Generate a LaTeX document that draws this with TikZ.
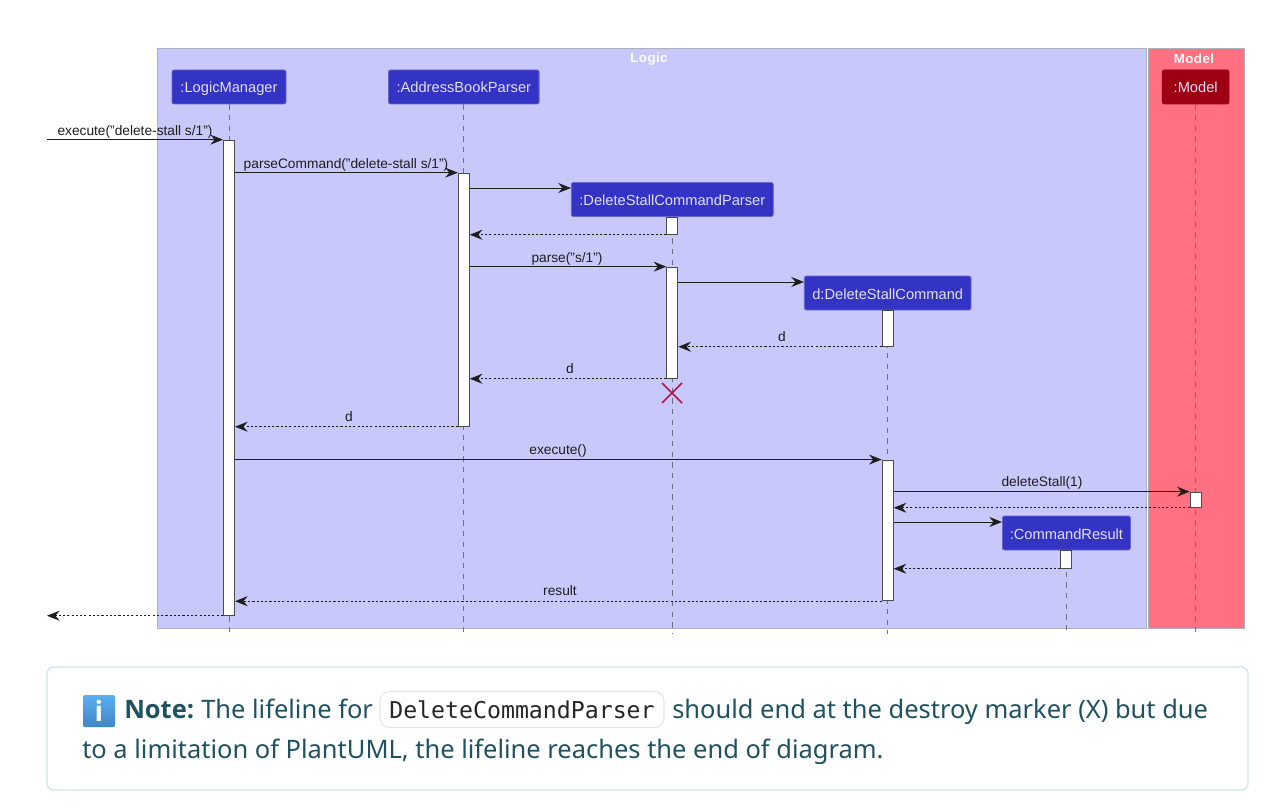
\documentclass[tikz,border=0pt]{standalone}
\usepackage{xcolor}
\usepackage{fontspec}
\usetikzlibrary{arrows.meta}
\setmainfont{Liberation Sans}
\newfontfamily\notefont{Noto Sans}
\newfontfamily\noteboldfont{Open Sans}
\newfontfamily\codefont{DejaVu Sans Mono}
\newfontfamily\titlefont[LetterSpace=3]{Liberation Sans}
\definecolor{logicblue}{HTML}{C8C8FA}
\definecolor{headblue}{HTML}{3333C4}
\definecolor{modelred}{HTML}{FF7082}
\definecolor{headred}{HTML}{9D0012}
\definecolor{groupgray}{HTML}{B0B0BC}
\definecolor{linegray}{HTML}{707080}
\definecolor{crossred}{HTML}{B0174A}
\definecolor{notetext}{HTML}{1F5260}
\definecolor{noteborder}{HTML}{CDE6EE}
\definecolor{inkdark}{HTML}{1E1E1E}
\definecolor{infotop}{HTML}{5AB0F0}
\definecolor{infobottom}{HTML}{3F86C8}
\tikzset{
    grouparea/.style={draw=groupgray,line width=0.6pt},
    grouptitle/.style={text=white,font=\titlefont\fontsize{10}{12}\selectfont\bfseries,inner sep=0pt},
    headbox/.style={draw=headblue!75!white,line width=0.6pt,rounded corners=1.5pt,fill=headblue,
        text=white!85!headblue,font=\fontsize{11}{13}\selectfont,minimum height=25.5pt,inner sep=0pt,
        text height=11.5pt,text depth=2.5pt},
    barbox/.style={draw=inkdark!80,line width=0.8pt,fill=white,minimum width=8.2pt,inner sep=0pt},
    lifeline/.style={draw=linegray,line width=0.6pt,dash pattern=on 4pt off 4pt},
    msg/.style={draw=inkdark,line width=0.7pt,-{Stealth[length=9.5pt,width=7.5pt,inset=3.2pt]}},
    retmsg/.style={msg,dash pattern=on 1.6pt off 1.6pt},
    msglabel/.style={text=inkdark,font=\fontsize{10.3}{12}\selectfont,inner sep=0pt,text height=9.3pt,text depth=2.5pt},
    notetextnode/.style={text=notetext,font=\notefont\fontsize{19.1}{24}\selectfont,inner sep=0pt,anchor=base west},
}

\begin{document}
\begin{tikzpicture}[x=0.75pt,y=-0.75pt]
\useasboundingbox (0,0) rectangle (1268,806);
\fill[white] (0,0) rectangle (1268,806);

% Group areas
\draw[grouparea,fill=logicblue] (157,48) rectangle (1146,628);
\draw[grouparea,fill=modelred] (1148,48) rectangle (1244,628);
\node[grouptitle] (logicTitle) at (649,59) {Logic};
\node[grouptitle] (modelTitle) at (1194,59) {Model};

% Participants
\node[headbox,minimum width=85.5pt] (lmHead) at (229,87) {:LogicManager};
\node[headbox,minimum width=113pt] (abpHead) at (463.8,87) {:AddressBookParser};
\node[headbox,minimum width=151.5pt] (dscpHead) at (672.3,199.5) {:DeleteStallCommandParser};
\node[headbox,minimum width=125pt] (dscHead) at (887.7,293) {d:DeleteStallCommand};
\node[headbox,minimum width=96pt] (crHead) at (1066.4,533) {:CommandResult};
\node[headbox,minimum width=50pt,fill=headred,draw=headred] (modelHead) at (1195.7,87) {:Model};

% Lifeline ends
\coordinate (lmEnd) at (229,634);
\coordinate (abpEnd) at (463.8,634);
\coordinate (dscpEnd) at (672.3,634);
\coordinate (dscEnd) at (887.7,634);
\coordinate (crEnd) at (1066.4,634);
\coordinate (modelEnd) at (1195.7,634);
\foreach \name in {lm,abp,dscp,dsc,cr,model}
{
    \draw[lifeline] (\name Head.south) -- (\name End);
}

% Activation bars
\node[barbox,minimum height=356.25pt] (lmBar) at (229,377.7) {};
\node[barbox,minimum height=189.75pt] (abpBar) at (463.8,299.7) {};
\node[barbox,minimum height=12.75pt] (dscpBarA) at (672.3,225.7) {};
\node[barbox,minimum height=83.25pt] (dscpBarB) at (672.3,322.7) {};
\node[barbox,minimum height=27pt] (dscBarA) at (887.7,328.2) {};
\node[barbox,minimum height=105.4pt] (dscBarB) at (887.7,530.4) {};
\node[barbox,minimum height=11.25pt] (modelBar) at (1195.7,499.7) {};
\node[barbox,minimum height=13.5pt] (crBar) at (1066.4,559.2) {};

% Free ends and rows without a bar corner
\coordinate (inStart) at (47,140);
\coordinate (outEnd) at (47,615);
\coordinate (rowA) at (0,188);
\coordinate (rowB) at (0,282);
\coordinate (rowC) at (0,522);

% Messages
\draw[msg] (inStart |- lmBar.north west) -- (lmBar.north west);
\draw[msg] (lmBar.east |- abpBar.north) -- (abpBar.north west);
\draw[msg] (abpBar.east |- rowA) -- (dscpHead.west |- rowA);
\draw[retmsg] (dscpBarA.south west) -- (abpBar.east |- dscpBarA.south);
\draw[msg] (abpBar.east |- dscpBarB.north) -- (dscpBarB.north west);
\draw[msg] (dscpBarB.east |- rowB) -- (dscHead.west |- rowB);
\draw[retmsg] (dscBarA.south west) -- (dscpBarB.east |- dscBarA.south);
\draw[retmsg] (dscpBarB.south west) -- (abpBar.east |- dscpBarB.south);
\draw[retmsg] (abpBar.south west) -- (lmBar.east |- abpBar.south);
\draw[msg] (lmBar.east |- dscBarB.north) -- (dscBarB.north west);
\draw[msg] (dscBarB.east |- modelBar.north) -- (modelBar.north west);
\draw[retmsg] (modelBar.south west) -- (dscBarB.east |- modelBar.south);
\draw[msg] (dscBarB.east |- rowC) -- (crHead.west |- rowC);
\draw[retmsg] (crBar.south west) -- (dscBarB.east |- crBar.south);
\draw[retmsg] (dscBarB.south west) -- (lmBar.east |- dscBarB.south);
\draw[retmsg] (lmBar.south west) -- (outEnd |- lmBar.south west);

% Message labels
\node[msglabel] (execLabel) at (135,131) {execute("delete-stall s/1")};
\node[msglabel] (parseCmdLabel) at (346,163.5) {parseCommand("delete-stall s/1")};
\node[msglabel] (parseLabel) at (567,257.5) {parse("s/1")};
\node[msglabel] (dLabelA) at (782,336.5) {d};
\node[msglabel] (dLabelB) at (570,368.5) {d};
\node[msglabel] (dLabelC) at (349,416.5) {d};
\node[msglabel] (executeLabel) at (558,449.5) {execute()};
\node[msglabel] (deleteLabel) at (1042,481.5) {deleteStall(1)};
\node[msglabel] (resultLabel) at (560,590.5) {result};

% Destroy marker
\coordinate (crossA) at (662,383);
\coordinate (crossB) at (682,403);
\coordinate (crossC) at (662,403);
\coordinate (crossD) at (682,383);
\draw[crossred,line width=1.3pt] (crossA) -- (crossB) (crossC) -- (crossD);

% Note box
\draw[noteborder,line width=1pt,rounded corners=5pt] (47,667) rectangle (1248,790);
\shade[top color=infotop,bottom color=infobottom,rounded corners=1.5pt] (83,695) rectangle (115,727);
\node[text=white,font=\noteboldfont\bfseries\fontsize{21}{24}\selectfont,inner sep=0pt] (infoMark) at (99,711) {i};
\node[notetextnode,font=\noteboldfont\bfseries\fontsize{19.1}{24}\selectfont] (noteLabel) at (124,718) {Note:};
\node[notetextnode] (noteA) at (201,718) {The lifeline for};
\node[draw=black!10,line width=0.8pt,rounded corners=7pt,minimum width=213pt,minimum height=27pt,inner sep=0pt,
    text=black!85,font=\codefont\fontsize{17.4}{20}\selectfont] (codeBox) at (522,709.5) {DeleteCommandParser};
\node[notetextnode] (noteB) at (672,718) {should end at the destroy marker (X) but due};
\node[notetextnode] (noteC) at (82,758) {to a limitation of PlantUML, the lifeline reaches the end of diagram.};
\end{tikzpicture}
\end{document}
